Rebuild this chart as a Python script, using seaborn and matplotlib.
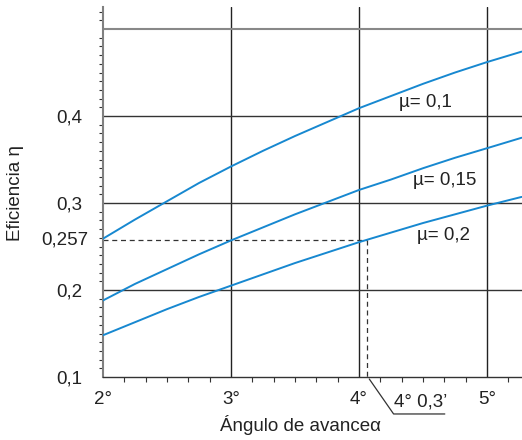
import numpy as np
import pandas as pd
import matplotlib
matplotlib.use("Agg")
import matplotlib.pyplot as plt
from matplotlib.ticker import FixedLocator, NullFormatter
import seaborn as sns

# values
alpha_deg = [2.0, 2.25, 2.5, 2.75, 3.0, 3.25, 3.5, 3.75, 4.0, 4.25, 4.5, 4.75, 5.0, 5.27]
eta_mu_010 = [0.259, 0.281, 0.302, 0.323, 0.342, 0.360, 0.377, 0.393, 0.409, 0.423, 0.437, 0.450, 0.462, 0.474]
eta_mu_015 = [0.188, 0.207, 0.224, 0.241, 0.257, 0.272, 0.287, 0.301, 0.315, 0.327, 0.340, 0.352, 0.363, 0.375]
eta_mu_020 = [0.148, 0.163, 0.178, 0.192, 0.205, 0.218, 0.231, 0.243, 0.255, 0.266, 0.277, 0.287, 0.297, 0.307]
mu_labels = ["µ= 0,1", "µ= 0,15", "µ= 0,2"]

ref_alpha = 4.06   # 4°0,3'
ref_eta = 0.257

sns.set_style("white")
plt.rcParams["font.family"] = ["Liberation Sans", "DejaVu Sans"]

blue = "#1788d0"
n = len(alpha_deg)
frame = pd.DataFrame({
    "alpha": alpha_deg * 3,
    "eta": eta_mu_010 + eta_mu_015 + eta_mu_020,
    "mu": [mu_labels[0]] * n + [mu_labels[1]] * n + [mu_labels[2]] * n,
})

fig = plt.figure(figsize=(5.22, 4.4), dpi=100)
ax = fig.add_axes([103 / 522, 1 - 377 / 440, 1 - 103 / 522, (377 - 7) / 440])

sns.lineplot(data=frame, x="alpha", y="eta", hue="mu", palette=[blue] * 3,
             legend=False, ax=ax, linewidth=1.4, zorder=3)

ax.set_xlim(2, 5.273)
ax.set_ylim(0.1, 0.5253)

# grid
for xv in [3, 4, 5]:
    ax.axvline(xv, color="#222222", lw=1.0, zorder=1)
for yv in [0.2, 0.3, 0.4]:
    ax.axhline(yv, color="#333333", lw=1.0, zorder=1)
ax.axhline(0.5, color="#888888", lw=1.5, zorder=1)

# spines
for s in ["top", "right"]:
    ax.spines[s].set_visible(False)
ax.spines["left"].set_color("#808080")
ax.spines["left"].set_linewidth(1.5)
ax.spines["bottom"].set_color("#333333")
ax.spines["bottom"].set_linewidth(1.0)

fs = 13.5
# ticks
ax.xaxis.set_major_locator(FixedLocator([2, 3, 4, 5]))
ax.set_xticklabels(["2°", "3°", "4°", "5°"])
ax.xaxis.set_minor_locator(FixedLocator(np.arange(2, 5.3, 1 / 6)))
ax.yaxis.set_major_locator(FixedLocator([0.1, 0.2, 0.3, 0.4, 0.5]))
ax.set_yticklabels(["0,1", "0,2", "0,3", "0,4", ""])
ax.yaxis.set_minor_locator(FixedLocator(np.arange(0.1, 0.525, 0.01)))
ax.yaxis.set_minor_formatter(NullFormatter())
ax.tick_params(axis="x", which="major", direction="out", length=4, width=1.0,
               color="#333333", labelsize=fs, pad=6, labelcolor="#222222")
ax.tick_params(axis="x", which="minor", direction="out", length=3.5, width=0.8,
               color="#333333", bottom=True)
ax.tick_params(axis="y", which="major", direction="out", length=5, width=1.0,
               color="#555555", labelsize=fs, pad=10, labelcolor="#222222")
ax.tick_params(axis="y", which="minor", direction="out", length=3, width=0.8,
               color="#333333", left=True)
ax.text(-0.036, ref_eta, "0,257", transform=ax.get_yaxis_transform(),
        ha="right", va="center", fontsize=fs, color="#222222")

# reference dashed lines
ax.plot([2, ref_alpha], [ref_eta, ref_eta], ls=(0, (4, 3)), color="#333333", lw=0.9, zorder=2)
ax.plot([ref_alpha, ref_alpha], [ref_eta, 0.1], ls=(0, (4, 3)), color="#333333", lw=0.9, zorder=2)

# leader for 4°0,3'
ax.plot([4.08, 4.27, 4.67], [0.0977, 0.0575, 0.0575], color="#333333", lw=0.9, clip_on=False)
ax.text(4.48, 0.071, "4° 0,3’", ha="center", va="center", fontsize=fs, color="#222222")

# curve labels
ax.text(4.52, 0.415, mu_labels[0], ha="center", va="center", fontsize=fs, color="#222222")
ax.text(4.67, 0.326, mu_labels[1], ha="center", va="center", fontsize=fs, color="#222222")
ax.text(4.66, 0.263, mu_labels[2], ha="center", va="center", fontsize=fs, color="#222222")

ax.set_xlabel("")
ax.set_ylabel("")
fig.text(16 / 522, 1 - 193 / 440, "Eficiencia η", rotation=90, ha="center", va="center",
         fontsize=fs, color="#222222")
fig.text(301 / 522, 1 - 425 / 440, "Ángulo de avanceα", ha="center", va="center",
         fontsize=fs, color="#222222")

fig.savefig("out.png", dpi=100)
